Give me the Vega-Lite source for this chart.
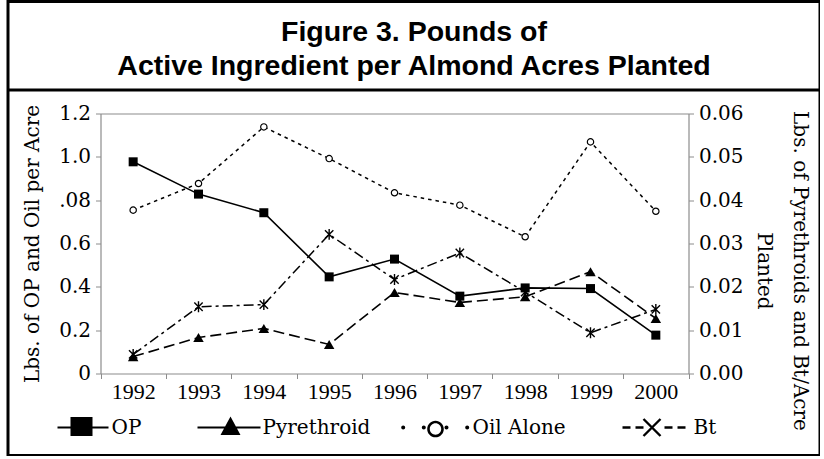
{
  "$schema": "https://vega.github.io/schema/vega-lite/v6.json",
  "padding": {"left": 8, "top": 1.5, "right": 0, "bottom": 0},
  "background": "white",
  "width": 812,
  "height": 454,
  "config": {
    "view": {"stroke": "black", "strokeWidth": 3, "fill": "white"},
    "axis": {"grid": false, "domainColor": "#8c8c8c", "tickColor": "#8c8c8c", "domainWidth": 1.2, "labelColor": "black", "titleColor": "black", "titleFontWeight": "normal"}
  },
  "data": {"values": [
    {"series": "OP", "year": 1992, "value": 0.977},
    {"series": "OP", "year": 1993, "value": 0.828},
    {"series": "OP", "year": 1994, "value": 0.742},
    {"series": "OP", "year": 1995, "value": 0.446},
    {"series": "OP", "year": 1996, "value": 0.528},
    {"series": "OP", "year": 1997, "value": 0.357},
    {"series": "OP", "year": 1998, "value": 0.395},
    {"series": "OP", "year": 1999, "value": 0.392},
    {"series": "OP", "year": 2000, "value": 0.177},
    {"series": "Oil Alone", "year": 1992, "value": 0.754},
    {"series": "Oil Alone", "year": 1993, "value": 0.877},
    {"series": "Oil Alone", "year": 1994, "value": 1.138},
    {"series": "Oil Alone", "year": 1995, "value": 0.992},
    {"series": "Oil Alone", "year": 1996, "value": 0.834},
    {"series": "Oil Alone", "year": 1997, "value": 0.777},
    {"series": "Oil Alone", "year": 1998, "value": 0.631},
    {"series": "Oil Alone", "year": 1999, "value": 1.069},
    {"series": "Oil Alone", "year": 2000, "value": 0.749},
    {"series": "Pyrethroid", "year": 1992, "value": 0.0039},
    {"series": "Pyrethroid", "year": 1993, "value": 0.0083},
    {"series": "Pyrethroid", "year": 1994, "value": 0.0104},
    {"series": "Pyrethroid", "year": 1995, "value": 0.0067},
    {"series": "Pyrethroid", "year": 1996, "value": 0.0187},
    {"series": "Pyrethroid", "year": 1997, "value": 0.0164},
    {"series": "Pyrethroid", "year": 1998, "value": 0.0177},
    {"series": "Pyrethroid", "year": 1999, "value": 0.0235},
    {"series": "Pyrethroid", "year": 2000, "value": 0.0127},
    {"series": "Bt", "year": 1992, "value": 0.0044},
    {"series": "Bt", "year": 1993, "value": 0.0154},
    {"series": "Bt", "year": 1994, "value": 0.0159},
    {"series": "Bt", "year": 1995, "value": 0.0321},
    {"series": "Bt", "year": 1996, "value": 0.0217},
    {"series": "Bt", "year": 1997, "value": 0.0278},
    {"series": "Bt", "year": 1998, "value": 0.0188},
    {"series": "Bt", "year": 1999, "value": 0.0094},
    {"series": "Bt", "year": 2000, "value": 0.0148}
  ]},
  "resolve": {"scale": {"y": "independent", "x": "independent"}, "axis": {"x": "independent", "y": "independent"}},
  "layer": [
    {
      "transform": [{"filter": "datum.series === 'OP' || datum.series === 'Oil Alone'"}],
      "encoding": {
        "x": {
          "field": "year", "type": "ordinal", "bandPosition": 0.5,
          "scale": {"type": "band", "paddingInner": 0, "paddingOuter": 0, "range": [92.5, 680.5]},
          "axis": {"orient": "bottom", "offset": -82, "title": null, "tickBand": "extent", "tickSize": 5, "labelAngle": 0, "labelFont": "Liberation Serif", "labelFontSize": 22, "labelPadding": 3}
        },
        "y": {
          "field": "value", "type": "quantitative",
          "scale": {"domain": [0, 1.2], "range": [372, 112], "nice": false, "zero": false},
          "axis": {
            "orient": "left", "offset": -92.5, "values": [0, 0.2, 0.4, 0.6, 0.8, 1.0, 1.2],
            "labelExpr": "datum.value == 0 ? '0' : (datum.value == 0.8 ? '.08' : format(datum.value, '.1f'))",
            "labelFont": "DejaVu Serif", "labelFontSize": 20, "tickSize": 5, "labelPadding": 5,
            "title": "Lbs. of OP and Oil per Acre", "titleFont": "DejaVu Serif", "titleFontSize": 20, "titlePadding": 16
          }
        }
      },
      "layer": [
        {
          "transform": [{"filter": "datum.series === 'OP'"}],
          "mark": {"type": "line", "color": "black", "strokeWidth": 1.6}
        },
        {
          "transform": [{"filter": "datum.series === 'Oil Alone'"}],
          "mark": {"type": "line", "color": "black", "strokeWidth": 1.5, "strokeDash": [3.5, 4]}
        },
        {
          "transform": [{"filter": "datum.series === 'OP'"}],
          "mark": {"type": "point", "shape": "square", "filled": true, "color": "black", "size": 81, "opacity": 1}
        },
        {
          "transform": [{"filter": "datum.series === 'Oil Alone'"}],
          "mark": {"type": "point", "shape": "circle", "filled": true, "fill": "white", "stroke": "black", "strokeWidth": 1.2, "size": 40, "opacity": 1}
        }
      ]
    },
    {
      "transform": [{"filter": "datum.series === 'Pyrethroid' || datum.series === 'Bt'"}],
      "encoding": {
        "x": {
          "field": "year", "type": "ordinal", "bandPosition": 0.5,
          "scale": {"type": "band", "paddingInner": 0, "paddingOuter": 0, "range": [92.5, 680.5]},
          "axis": {"orient": "top", "offset": -112, "title": null, "labels": false, "ticks": false}
        },
        "y": {
          "field": "value", "type": "quantitative",
          "scale": {"domain": [0, 0.06], "range": [372, 112], "nice": false, "zero": false},
          "axis": {
            "orient": "right", "offset": -131.5, "values": [0, 0.01, 0.02, 0.03, 0.04, 0.05, 0.06], "format": ".2f",
            "labelFont": "DejaVu Serif", "labelFontSize": 20, "tickSize": 5, "labelPadding": 5,
            "title": ["Lbs. of Pyrethroids and Bt/Acre", "Planted"], "titleFont": "DejaVu Serif", "titleFontSize": 20,
            "titlePadding": 10, "titleLineHeight": 36, "titleY": 269
          }
        }
      },
      "layer": [
        {
          "transform": [{"filter": "datum.series === 'Pyrethroid'"}],
          "mark": {"type": "line", "color": "black", "strokeWidth": 1.6, "strokeDash": [11, 5]}
        },
        {
          "transform": [{"filter": "datum.series === 'Bt'"}],
          "mark": {"type": "line", "color": "black", "strokeWidth": 1.5, "strokeDash": [10, 4, 3, 4]}
        },
        {
          "transform": [{"filter": "datum.series === 'Pyrethroid'"}],
          "mark": {"type": "point", "shape": "triangle-up", "filled": true, "color": "black", "size": 110, "opacity": 1}
        },
        {
          "transform": [{"filter": "datum.series === 'Bt'"}],
          "mark": {"type": "point", "shape": "M-1,-1L1,1M-1,1L1,-1M0,-1.3L0,1.3", "filled": false, "color": "black", "strokeWidth": 1.4, "size": 70, "opacity": 1}
        }
      ]
    },
    {
      "transform": [{"filter": "datum.series === 'OP'"}],
      "mark": {"type": "point", "opacity": 0},
      "encoding": {
        "x": {
          "field": "year", "type": "ordinal",
          "scale": {"type": "band", "paddingInner": 0, "paddingOuter": 0, "range": [0, 812]},
          "axis": {"orient": "top", "offset": -88, "title": null, "labels": false, "ticks": false, "domainColor": "black", "domainWidth": 3}
        }
      }
    },
    {
      "transform": [{"filter": "datum.year < 0"}],
      "mark": {"type": "point", "filled": true, "color": "black", "size": 400},
      "encoding": {
        "shape": {
          "field": "series", "type": "nominal",
          "scale": {
            "domain": ["OP", "Pyrethroid", "Oil Alone", "Bt"],
            "range": [
              "M-2.1,-1.5M9.9,1.5M-1.4,-0.1H3.7V0.1H-1.4ZM-0.1,-1.05H2.1V0.85H-0.1Z",
              "M-5.2,-1.5M16.8,1.5M-2.5,-0.1H3.8V0.1H-2.5ZM0.8,-1.1L1.8,0.75H-0.2Z",
              "M-4.2,-1.5M16.8,1.5M-2.73,0A0.2,0.2 0 1,1 -3.13,0A0.2,0.2 0 1,1 -2.73,0ZM-0.67,0A0.2,0.2 0 1,1 -1.07,0A0.2,0.2 0 1,1 -0.67,0ZM1.6,0A0.2,0.2 0 1,1 1.2,0A0.2,0.2 0 1,1 1.6,0ZM3.67,0A0.2,0.2 0 1,1 3.27,0A0.2,0.2 0 1,1 3.67,0ZM1.13,0.15A0.83,0.83 0 1,1 -0.53,0.15A0.83,0.83 0 1,1 1.13,0.15ZM0.87,0.15A0.57,0.57 0 1,0 -0.27,0.15A0.57,0.57 0 1,0 0.87,0.15Z",
              "M-5.3,-1.5M7.7,1.5M-3.1,-0.13H-2.3V0.13H-3.1ZM-1.8,-0.13H-1V0.13H-1.8ZM1.1,-0.13H1.9V0.13H1.1ZM2.4,-0.13H3.2V0.13H2.4ZM-1.085,-0.765L0.615,0.935L0.785,0.765L-0.915,-0.935ZM-0.915,0.935L0.785,-0.765L0.615,-0.935L-1.085,0.765Z"
            ]
          },
          "legend": {
            "orient": "none", "legendX": 53.5, "legendY": 416, "direction": "horizontal", "columns": 4,
            "title": null, "padding": 0, "columnPadding": 0, "gridAlign": "each",
            "labelFont": "DejaVu Serif", "labelFontSize": 20, "labelColor": "black", "labelOffset": 30, "labelLimit": 300,
            "symbolSize": 400, "symbolStrokeWidth": 0, "symbolOpacity": 1, "symbolFillColor": "black"
          }
        }
      }
    },
    {
      "data": {"values": [
        {"line": "Figure 3. Pounds of", "row": 1},
        {"line": "Active Ingredient per Almond Acres Planted", "row": 2}
      ]},
      "mark": {"type": "text", "font": "Liberation Sans", "fontSize": 28.5, "fontWeight": "bold", "color": "black", "align": "center", "baseline": "alphabetic"},
      "encoding": {
        "text": {"field": "line", "type": "nominal"},
        "x": {"datum": 0.5, "type": "quantitative", "scale": {"domain": [0, 1], "range": [0, 812]}, "axis": null},
        "y": {"field": "row", "type": "quantitative", "scale": {"domain": [1, 2], "range": [39, 73], "zero": false, "nice": false}, "axis": null}
      }
    }
  ]
}
